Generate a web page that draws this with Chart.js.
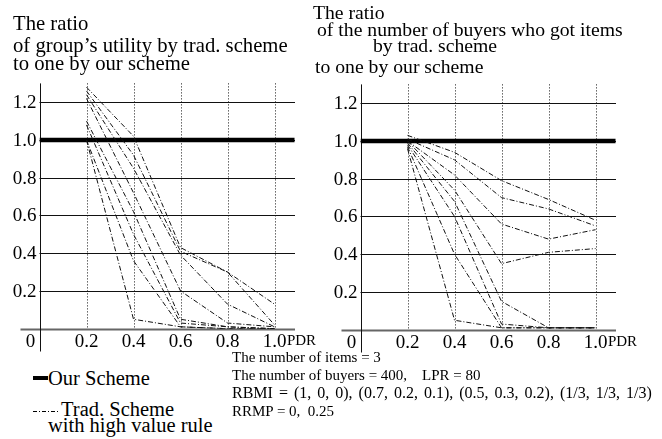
<!DOCTYPE html>
<html>
<head>
<meta charset="utf-8">
<script src="https://cdn.jsdelivr.net/npm/chart.js@4/dist/chart.umd.min.js"></script>
<style>
html,body{margin:0;padding:0;background:#fff;}
body{width:662px;height:439px;position:relative;overflow:hidden;font-family:"Liberation Serif","Times New Roman",serif;color:#000;}
canvas{position:absolute;}
.t{position:absolute;white-space:pre;line-height:1;}
.tl{font-size:20.7px;}
.tr{font-size:19.7px;}
.sm{font-size:15px;}
.lg{font-size:20.5px;}
</style>
</head>
<body>
<canvas id="c1" width="320" height="360" style="left:0;top:0;width:320px;height:360px"></canvas>
<canvas id="c2" width="320" height="360" style="left:321px;top:1px;width:320px;height:360px"></canvas>

<div class="t tl" style="left:13px;top:13px">The ratio</div>
<div class="t tl" style="left:13px;top:34.5px">of group’s utility by trad. scheme</div>
<div class="t tl" style="left:13px;top:53px">to one by our scheme</div>

<div class="t tr" style="left:313px;top:2.5px">The ratio</div>
<div class="t tr" style="left:317px;top:20px">of the number of buyers who got items</div>
<div class="t tr" style="left:373px;top:36px">by trad. scheme</div>
<div class="t tr" style="left:315px;top:57px">to one by our scheme</div>

<div style="position:absolute;left:33px;top:376px;width:15px;height:3.5px;background:#000"></div>
<div class="t lg" style="left:48px;top:368px">Our Scheme</div>
<div style="position:absolute;left:33px;top:411px;width:27px;height:1px;background:repeating-linear-gradient(90deg,#000 0 4px,transparent 4px 6px,#000 6px 7px,transparent 7px 9px)"></div>
<div class="t lg" style="left:61px;top:398.5px">Trad. Scheme</div>
<div class="t lg" style="left:48px;top:415px">with high value rule</div>

<div class="t sm" style="left:232px;top:350px">The number of items = 3</div>
<div class="t sm" style="left:232px;top:367.5px">The number of buyers = 400,</div>
<div class="t sm" style="left:422px;top:367.5px">LPR = 80</div>
<div class="t sm" style="left:232px;top:385px;font-size:16px;word-spacing:2px">RBMI = (1, 0, 0), (0.7, 0.2, 0.1), (0.5, 0.3, 0.2), (1/3, 1/3, 1/3)</div>
<div class="t sm" style="left:232px;top:404px">RRMP = 0,  0.25</div>

<script>
// ---- data ----
const pdr = [0.2, 0.4, 0.6, 0.8, 1.0];
const xTicks = [0.2, 0.4, 0.6, 0.8, 1.0];
const xTickLabels = ["0.2", "0.4", "0.6", "0.8", "1.0"];
const yTicks = [0.2, 0.4, 0.6, 0.8, 1.0, 1.2];
const yTickLabels = ["0.2", "0.4", "0.6", "0.8", "1.0", "1.2"];
const ourSchemeX = [0, 1.085];
const ourSchemeY = [1.0, 1.0];

// ratio of group's utility (trad. / ours)
const utilA = [1.28, 1.02, 0.43, 0.30, 0.13];
const utilB = [1.26, 0.92, 0.41, 0.30, 0.02];
const utilC = [1.24, 0.85, 0.39, 0.13, 0.01];
const utilD = [1.22, 0.72, 0.20, 0.03, 0.01];
const utilE = [1.10, 0.62, 0.05, 0.01, 0.00];
const utilF = [1.08, 0.50, 0.03, 0.01, 0.00];
const utilG = [1.00, 0.36, 0.01, 0.00, 0.00];
const utilH = [1.00, 0.05, 0.01, 0.00, 0.00];

// ratio of number of buyers who got items (trad. / ours)
const buyA = [1.03, 0.94, 0.79, 0.69, 0.58];
const buyB = [1.01, 0.90, 0.70, 0.64, 0.55];
const buyC = [1.00, 0.82, 0.56, 0.48, 0.53];
const buyD = [1.00, 0.74, 0.35, 0.41, 0.43];
const buyE = [0.99, 0.68, 0.15, 0.01, 0.01];
const buyF = [0.98, 0.60, 0.03, 0.01, 0.01];
const buyG = [0.97, 0.40, 0.01, 0.01, 0.01];
const buyH = [0.96, 0.05, 0.01, 0.01, 0.01];

// ---- chart ----
const X_MAX = 1.087, Y_MAX = 1.3;
const FONT = '"Liberation Serif","Times New Roman",serif';

const axesPlugin = {
  id: 'axesPlugin',
  beforeDatasetsDraw(chart) {
    const {ctx, chartArea: a, scales: {x, y}} = chart;
    ctx.save();
    ctx.strokeStyle = '#111'; ctx.lineWidth = 1;
    yTicks.forEach(v => {
      const py = Math.round(y.getPixelForValue(v)) + 0.5;
      ctx.beginPath(); ctx.moveTo(a.left, py); ctx.lineTo(a.right, py); ctx.stroke();
    });
    ctx.setLineDash([1, 2]);
    xTicks.forEach(v => {
      const px = Math.round(x.getPixelForValue(v)) + 0.5;
      ctx.beginPath(); ctx.moveTo(px, a.top); ctx.lineTo(px, y.getPixelForValue(0)); ctx.stroke();
    });
    ctx.setLineDash([]);
    const y0 = Math.round(y.getPixelForValue(0)) + 0.5;
    ctx.strokeStyle = '#666'; ctx.lineWidth = 2;
    ctx.beginPath(); ctx.moveTo(a.left - 19, y0); ctx.lineTo(a.right, y0); ctx.stroke();
    const x0 = Math.round(x.getPixelForValue(0)) + 0.5;
    ctx.strokeStyle = '#111'; ctx.lineWidth = 1;
    ctx.beginPath(); ctx.moveTo(x0, a.top); ctx.lineTo(x0, y0 + 22); ctx.stroke();
    ctx.restore();
  },
  afterDraw(chart) {
    const {ctx, scales: {x, y}} = chart;
    ctx.save();
    ctx.fillStyle = '#000';
    ctx.font = '19px ' + FONT;
    const x0 = x.getPixelForValue(0), y0 = y.getPixelForValue(0);
    ctx.textAlign = 'right'; ctx.textBaseline = 'alphabetic';
    yTicks.forEach((v, i) => ctx.fillText(yTickLabels[i], x0 - 3, y.getPixelForValue(v) + 6));
    ctx.textAlign = 'center';
    xTicks.forEach((v, i) => ctx.fillText(xTickLabels[i], x.getPixelForValue(v), y0 + 18));
    ctx.fillText('0', x0 - 9, y0 + 18);
    const lastX = x.getPixelForValue(xTicks[xTicks.length - 1]);
    const w = ctx.measureText(xTickLabels[xTickLabels.length - 1]).width;
    ctx.textAlign = 'left';
    ctx.font = '15px ' + FONT;
    ctx.fillText('PDR', lastX + w / 2 + 0.5, y0 + 16);
    ctx.restore();
  }
};

function pts(arr) { return pdr.map((p, i) => ({x: p, y: arr[i]})); }

function makeChart(id, seriesList) {
  const datasets = seriesList.map(s => ({
    label: 'Trad. Scheme', data: pts(s), borderColor: '#111', borderWidth: 1,
    borderDash: [5, 2, 1, 2], pointRadius: 0, tension: 0, fill: false
  }));
  datasets.push({
    label: 'Our Scheme', data: ourSchemeX.map((v, i) => ({x: v, y: ourSchemeY[i]})),
    borderColor: '#000', borderWidth: 4.5, pointRadius: 0, fill: false
  });
  return new Chart(document.getElementById(id), {
    type: 'line',
    data: {datasets},
    options: {
      responsive: false, animation: false, devicePixelRatio: 1,
      layout: {padding: {left: 39.5, top: 83.4, right: 25, bottom: 31.3}},
      plugins: {legend: {display: false}, tooltip: {enabled: false}},
      scales: {
        x: {type: 'linear', min: 0, max: X_MAX, display: false},
        y: {type: 'linear', min: 0, max: Y_MAX, display: false}
      }
    },
    plugins: [axesPlugin]
  });
}

makeChart('c1', [utilA, utilB, utilC, utilD, utilE, utilF, utilG, utilH]);
makeChart('c2', [buyA, buyB, buyC, buyD, buyE, buyF, buyG, buyH]);
</script>
</body>
</html>
